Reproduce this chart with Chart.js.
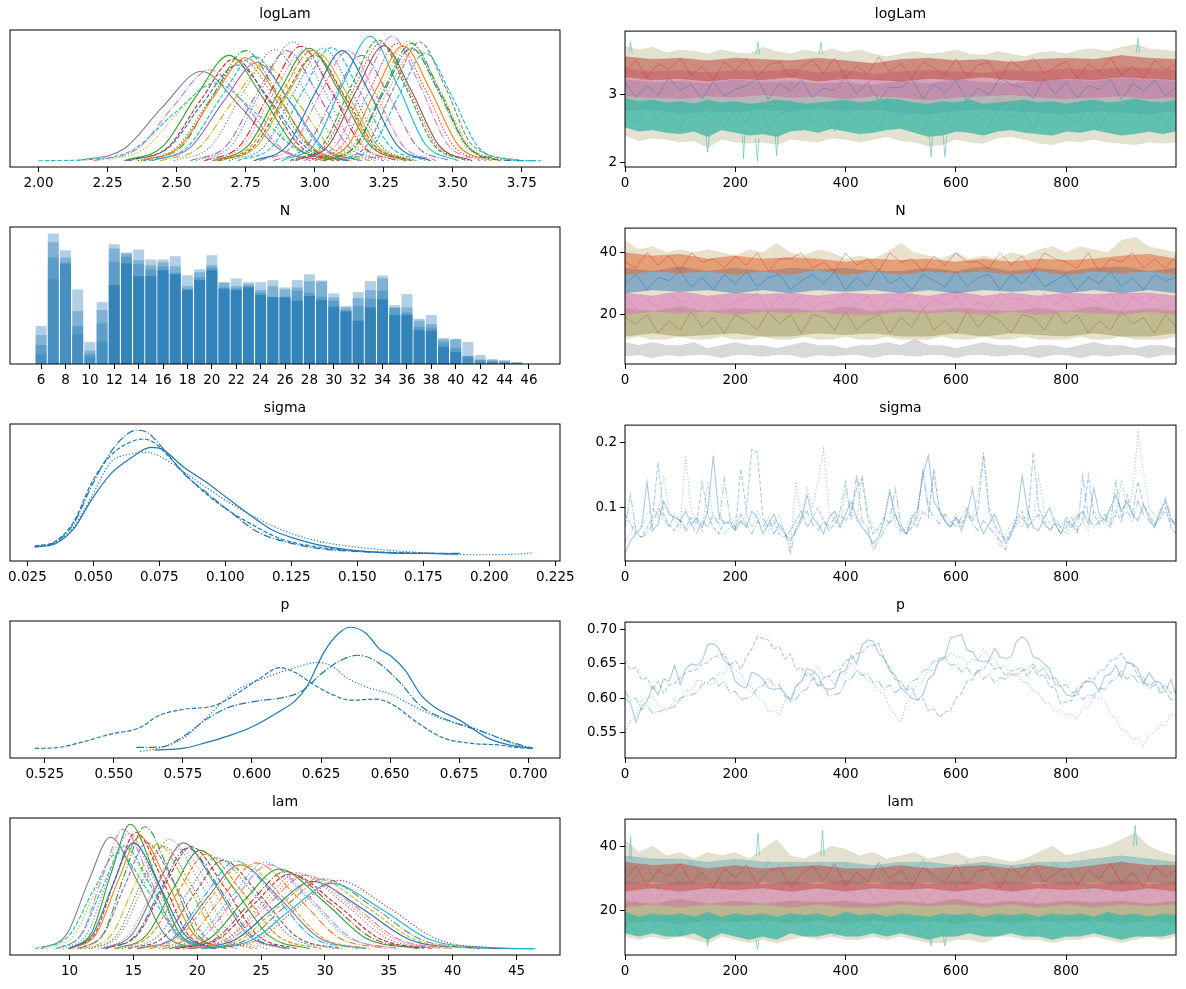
<!DOCTYPE html>
<html>
<head>
<meta charset="utf-8">
<script src="https://cdn.jsdelivr.net/npm/chart.js@4.4.1/dist/chart.umd.min.js"></script>
<style>
  body { margin: 0; background: #fff; width: 1186px; height: 989px; position: relative; overflow: hidden; font-family: "DejaVu Sans", sans-serif; }
  .panel { position: absolute; }
  .ttl { position: absolute; font-size: 14px; line-height: 18px; height: 18px; text-align: center; color: #000; }
</style>
</head>
<body>
<script>
// ---- tick labels ----
const logLamKdeTicks = ['2.00','2.25','2.50','2.75','3.00','3.25','3.50','3.75'];
const nHistTicks = ['6','8','10','12','14','16','18','20','22','24','26','28','30','32','34','36','38','40','42','44','46'];
const sigmaKdeTicks = ['0.025','0.050','0.075','0.100','0.125','0.150','0.175','0.200','0.225'];
const pKdeTicks = ['0.525','0.550','0.575','0.600','0.625','0.650','0.675','0.700'];
const lamKdeTicks = ['10','15','20','25','30','35','40','45'];
const drawTicks = ['0','200','400','600','800'];
const logLamTraceTicks = ['2','3'];
const nTraceTicks = ['20','40'];
const sigmaTraceTicks = ['0.1','0.2'];
const pTraceTicks = ['0.55','0.60','0.65','0.70'];
const lamTraceTicks = ['20','40'];

// ---- logLam: one KDE per site/chain, [x values, density values] ----
const logLamSite = [7,9,8,6,2,3,5,2,4,9,7,8,1,0,7,3,2,9,0,4,8,1,6,6,9,2,3,4,1,7,8,0,5,9,3,6,0,5,1,2];
const logLamKde = [
  [[2.14,2.31,2.45,2.59,2.73,2.87,3.04],[0,0.25,1.13,1.87,1.13,0.25,0]],
  [[2.00,2.19,2.34,2.49,2.64,2.79,2.94,3.12],[0,0.03,0.22,0.98,1.62,0.98,0.22,0]],
  [[2.21,2.38,2.52,2.66,2.80,2.94,3.11],[0,0.24,1.09,1.80,1.09,0.24,0]],
  [[2.20,2.36,2.49,2.62,2.75,2.88,3.04],[0,0.26,1.15,1.90,1.15,0.26,0]],
  [[2.31,2.45,2.57,2.69,2.81,2.93,3.07],[0,0.30,1.34,2.20,1.34,0.30,0]],
  [[2.33,2.47,2.59,2.71,2.83,2.95,3.09],[0,0.29,1.29,2.13,1.29,0.29,0]],
  [[2.36,2.50,2.62,2.74,2.86,2.98,3.12],[0,0.28,1.27,2.10,1.27,0.28,0]],
  [[2.38,2.52,2.635,2.75,2.865,2.98,3.12],[0,0.31,1.40,2.30,1.40,0.31,0]],
  [[2.41,2.55,2.67,2.79,2.91,3.03,3.17],[0,0.28,1.24,2.05,1.24,0.28,0]],
  [[2.40,2.54,2.66,2.78,2.90,3.02,3.16],[0,0.29,1.32,2.18,1.32,0.29,0]],
  [[2.49,2.625,2.74,2.855,2.97,3.085,3.22],[0,0.31,1.41,2.32,1.41,0.31,0]],
  [[2.44,2.58,2.70,2.82,2.94,3.06,3.20],[0,0.27,1.21,2.00,1.21,0.27,0]],
  [[2.37,2.51,2.63,2.75,2.87,2.99,3.13],[0,0.29,1.30,2.15,1.30,0.29,0]],
  [[2.32,2.47,2.595,2.72,2.845,2.97,3.12],[0,0.27,1.21,2.00,1.21,0.27,0]],
  [[2.57,2.70,2.81,2.92,3.03,3.14,3.27],[0,0.33,1.51,2.48,1.51,0.33,0]],
  [[2.60,2.73,2.84,2.95,3.06,3.17,3.30],[0,0.32,1.45,2.39,1.45,0.32,0]],
  [[2.63,2.76,2.87,2.98,3.09,3.20,3.33],[0,0.32,1.43,2.35,1.43,0.32,0]],
  [[2.72,2.85,2.955,3.06,3.165,3.27,3.40],[0,0.32,1.43,2.36,1.43,0.32,0]],
  [[2.69,2.82,2.925,3.03,3.135,3.24,3.37],[0,0.32,1.43,2.35,1.43,0.32,0]],
  [[2.55,2.68,2.79,2.90,3.01,3.12,3.25],[0,0.31,1.40,2.30,1.40,0.31,0]],
  [[2.66,2.79,2.90,3.01,3.12,3.23,3.36],[0,0.30,1.37,2.25,1.37,0.30,0]],
  [[2.64,2.77,2.88,2.99,3.10,3.21,3.34],[0,0.31,1.40,2.30,1.40,0.31,0]],
  [[2.61,2.74,2.85,2.96,3.07,3.18,3.31],[0,0.31,1.40,2.30,1.40,0.31,0]],
  [[2.96,3.08,3.18,3.28,3.38,3.48,3.60],[0,0.35,1.58,2.60,1.58,0.35,0]],
  [[2.88,3.00,3.10,3.20,3.30,3.40,3.52],[0,0.35,1.58,2.60,1.58,0.35,0]],
  [[2.91,3.03,3.13,3.23,3.33,3.43,3.55],[0,0.34,1.53,2.52,1.53,0.34,0]],
  [[2.92,3.04,3.14,3.24,3.34,3.44,3.56],[0,0.33,1.49,2.46,1.49,0.33,0]],
  [[2.85,2.97,3.07,3.17,3.27,3.37,3.49],[0,0.30,1.34,2.20,1.34,0.30,0]],
  [[3.00,3.12,3.22,3.32,3.42,3.52,3.64],[0,0.32,1.46,2.40,1.46,0.32,0]],
  [[3.08,3.19,3.285,3.38,3.475,3.57,3.75],[0,0.33,1.51,2.48,1.51,0.33,0]],
  [[3.02,3.14,3.24,3.34,3.44,3.54,3.66],[0,0.34,1.52,2.50,1.52,0.34,0]],
  [[3.03,3.15,3.25,3.35,3.45,3.55,3.67,3.80],[0,0.32,1.43,2.35,1.43,0.32,0.02,0]],
  [[2.93,3.05,3.15,3.25,3.35,3.45,3.57],[0,0.32,1.46,2.40,1.46,0.32,0]],
  [[3.10,3.21,3.305,3.40,3.495,3.59,3.70,3.82],[0,0.30,1.37,2.25,1.37,0.30,0.03,0]],
  [[2.98,3.10,3.20,3.30,3.40,3.50,3.62],[0,0.33,1.49,2.45,1.49,0.33,0]],
  [[2.80,2.92,3.02,3.12,3.22,3.32,3.44],[0,0.31,1.40,2.30,1.40,0.31,0]],
  [[2.78,2.90,3.00,3.10,3.20,3.30,3.42],[0,0.31,1.40,2.30,1.40,0.31,0]],
  [[2.65,2.78,2.89,3.00,3.11,3.22,3.35],[0,0.30,1.34,2.20,1.34,0.30,0]],
  [[3.04,3.16,3.26,3.36,3.46,3.56,3.68],[0,0.31,1.40,2.30,1.40,0.31,0]],
  [[3.03,3.15,3.25,3.35,3.45,3.55,3.67],[0,0.33,1.49,2.45,1.49,0.33,0]]
];

// ---- lam KDEs ----
const lamSite = [7,9,8,6,2,3,4,2,1,4,7,8,7,3,6,0,2,1,0,9,4,8,9,6,2,3,4,7,0,8,1,5,9,5,3,1,0,9,5,6];
const lamKde = [
  [[7.76,9.8,11.5,13.2,15.3,17.4,19.9],[0,.024,.109,.179,.109,.024,0]],
  [[7.3,9.95,11.85,13.75,16.15,18.55,21.4],[0,.021,.093,.154,.093,.021,0]],
  [[8.2,10.4,12.2,14.0,16.3,18.6,21.4],[0,.023,.102,.168,.102,.023,0]],
  [[9.1,11.0,12.6,14.2,16.2,18.2,20.6],[0,.026,.117,.192,.117,.026,0]],
  [[9.95,11.75,13.25,14.75,16.65,18.55,20.8],[0,.027,.121,.200,.121,.027,0]],
  [[10.1,12.0,13.6,15.2,17.2,19.2,21.6],[0,.025,.114,.187,.114,.025,0]],
  [[9.5,11.4,13.0,14.6,16.6,18.6,21.0],[0,.025,.112,.185,.112,.025,0]],
  [[10.8,12.7,14.3,15.9,17.9,19.9,22.3],[0,.026,.119,.196,.119,.026,0]],
  [[10.1,12.1,13.8,15.5,17.6,19.7,22.2],[0,.024,.109,.180,.109,.024,0]],
  [[10.6,12.65,14.35,16.05,18.25,20.45,23.1],[0,.023,.103,.170,.103,.023,0]],
  [[11.7,14.0,15.9,17.8,20.2,22.6,25.5],[0,.024,.107,.176,.107,.024,0]],
  [[11.1,13.3,15.1,16.9,19.2,21.5,24.3],[0,.023,.102,.168,.102,.023,0]],
  [[12.5,14.9,16.9,18.9,21.4,23.9,26.9],[0,.023,.103,.170,.103,.023,0]],
  [[12.8,15.3,17.4,19.5,22.1,24.7,27.8],[0,.022,.100,.164,.100,.022,0]],
  [[12.2,14.6,16.6,18.6,21.1,23.6,26.6],[0,.022,.097,.160,.097,.022,0]],
  [[12.8,15.2,17.2,19.2,21.7,24.2,27.2],[0,.022,.098,.162,.098,.022,0]],
  [[13.5,16.0,18.1,20.2,22.9,25.6,28.8],[0,.021,.096,.158,.096,.021,0]],
  [[13.7,16.3,18.5,20.7,23.5,26.3,29.7],[0,.021,.092,.152,.092,.021,0]],
  [[14.1,16.9,19.2,21.5,24.4,27.3,30.8],[0,.020,.089,.146,.089,.020,0]],
  [[15.3,18.2,20.6,23.0,26.0,29.0,32.6],[0,.019,.086,.141,.086,.019,0]],
  [[15.3,18.3,20.8,23.3,26.4,29.5,33.2],[0,.018,.082,.135,.082,.018,0]],
  [[15.6,18.6,21.1,23.6,26.7,29.8,33.5],[0,.018,.083,.136,.083,.018,0]],
  [[17.0,20.1,22.7,25.3,28.5,31.7,35.5],[0,.019,.084,.139,.084,.019,0]],
  [[17.3,20.4,23.0,25.6,28.8,32.0,35.8],[0,.018,.082,.135,.082,.018,0]],
  [[17.8,21.0,23.7,26.4,29.8,33.2,37.3],[0,.017,.078,.128,.078,.017,0]],
  [[18.3,21.7,24.5,27.3,30.8,34.3,38.5],[0,.016,.073,.120,.073,.016,0]],
  [[18.9,22.3,25.1,27.9,31.4,34.9,39.1],[0,.016,.074,.122,.074,.016,0]],
  [[20.3,23.9,26.9,29.9,33.7,37.5,42.1],[0,.015,.068,.112,.068,.015,0]],
  [[19.4,23.0,26.0,29.0,32.8,36.6,41.2,46.3],[0,.015,.066,.108,.066,.015,.002,0]],
  [[19.8,23.4,26.4,29.4,33.2,37.0,41.6],[0,.015,.068,.112,.068,.015,0]],
  [[18.9,22.4,25.3,28.2,31.8,35.4,39.7],[0,.016,.072,.118,.072,.016,0]],
  [[18.3,21.5,24.2,26.9,30.3,33.7,37.8],[0,.017,.075,.124,.075,.017,0]],
  [[20.6,24.3,27.4,30.5,34.4,38.3,43.0,46.5],[0,.014,.064,.105,.064,.014,.002,0]],
  [[14.6,17.4,19.7,22.0,24.9,27.8,31.3],[0,.019,.086,.142,.086,.019,0]],
  [[21.1,24.8,27.9,31.0,34.9,38.8,43.5],[0,.015,.067,.110,.067,.015,0]],
  [[16.3,19.4,22.0,24.6,27.8,31.0,34.8],[0,.019,.084,.138,.084,.019,0]],
  [[9.9,11.8,13.4,15.0,17.0,19.0,21.4],[0,.023,.103,.170,.103,.023,0]],
  [[8.9,10.9,12.6,14.3,16.4,18.5,21.0],[0,.022,.100,.165,.100,.022,0]],
  [[11.5,13.7,15.5,17.3,19.6,21.9,24.7],[0,.022,.100,.165,.100,.022,0]],
  [[19.2,22.7,25.6,28.5,32.1,35.7,40.0],[0,.016,.072,.118,.072,.016,0]]
];

// ---- sigma KDE, one per chain ----
const sigmaKde = [
  [[0.0278,0.0355,0.0425,0.0495,0.0565,0.0635,0.0719,0.0760,0.0844,0.0928,0.1012,0.1096,0.1180,0.1264,0.1348,0.1460,0.1614,0.1750,0.1880],
   [1.7,2.4,5.6,12.1,17.5,20.7,23.3,22.9,18.9,15.7,12.1,8.5,5.3,3.5,2.2,1.1,0.43,0.29,0.14]],
  [[0.0278,0.0355,0.0425,0.0495,0.0565,0.0635,0.0690,0.0730,0.0800,0.0886,0.0984,0.1096,0.1208,0.1348,0.1490,0.1690,0.1865],
   [1.9,2.9,7.1,15.8,21.5,24.3,25.1,24.3,20.4,15.3,10.7,6.7,3.5,1.7,0.86,0.43,0.22]],
  [[0.0278,0.0355,0.0425,0.0495,0.0565,0.0635,0.0705,0.0760,0.0844,0.0928,0.1012,0.1124,0.1236,0.1348,0.1490,0.1630,0.1823,0.1960,0.2103,0.2166],
   [1.7,2.4,6.0,12.8,20.0,21.8,22.2,21.1,17.9,14.6,11.4,7.8,4.9,3.0,1.7,0.94,0.22,0.0,0.14,0.43]],
  [[0.0278,0.0355,0.0425,0.0495,0.0565,0.0620,0.0663,0.0705,0.0760,0.0844,0.0928,0.1012,0.1124,0.1236,0.1348,0.1490,0.1630,0.1750,0.1890],
   [1.7,2.7,6.7,15.1,22.2,25.8,27.0,26.5,23.3,17.5,13.5,9.6,4.9,2.7,1.4,0.72,0.43,0.29,0.29]]
];

// ---- p KDE, one per chain ----
const pKde = [
  [[0.5648,0.5755,0.5835,0.5915,0.5995,0.6102,0.6156,0.6196,0.6263,0.6316,0.6356,0.6410,0.6463,0.6503,0.6556,0.6610,0.6663,0.6757,0.6850,0.6930,0.7017],
   [0.48,1.06,2.7,4.6,7.0,11.8,14.7,18.5,29.1,34.4,36.0,34.4,29.6,27.7,23.4,16.6,12.8,8.9,4.1,2.0,0.96]],
  [[0.5214,0.5300,0.5381,0.5488,0.5595,0.5661,0.5755,0.5862,0.5942,0.6022,0.6102,0.6156,0.6222,0.6289,0.6356,0.6449,0.6516,0.6597,0.6690,0.6797,0.6890,0.6957,0.7017],
   [0.96,1.25,2.7,5.1,7.0,10.4,12.3,13.3,16.6,20.9,24.3,22.9,19.5,16.6,14.9,15.2,13.3,8.5,4.1,2.4,2.0,1.25,0.96]],
  [[0.5595,0.5648,0.5755,0.5835,0.5942,0.6049,0.6156,0.6236,0.6289,0.6343,0.6423,0.6503,0.6583,0.6690,0.6797,0.6890,0.6957,0.7017],
   [0.1,0.77,4.1,9.9,17.6,21.4,24.3,25.8,24.8,21.4,18.5,16.6,13.3,9.4,7.0,4.1,2.0,0.96]],
  [[0.5581,0.5675,0.5755,0.5835,0.5915,0.6022,0.6115,0.6182,0.6249,0.6316,0.6383,0.6449,0.6530,0.6610,0.6717,0.6824,0.6930,0.7017],
   [1.25,1.44,4.6,9.4,12.8,14.7,15.7,17.6,22.4,26.2,27.9,26.2,20.5,13.3,8.9,6.1,3.0,0.96]]
];

// ---- N histogram: counts per value, per chain ----
const nBins = [6,7,8,9,10,11,12,13,14,15,16,17,18,19,20,21,22,23,24,25,26,27,28,29,30,31,32,33,34,35,36,37,38,39,40,41,42,43,44,45];
const nChain1 = [114,392,342,224,66,186,360,335,344,314,314,324,267,285,327,246,257,246,246,252,230,252,270,251,212,174,216,249,266,177,210,136,147,78,75,66,27,15,12,6];
const nChain2 = [87,366,320,159,40,162,347,332,312,297,306,294,234,276,297,244,234,240,222,234,224,230,249,248,200,170,198,222,258,170,170,130,120,74,74,24,14,12,8,4];
const nChain3 = [57,320,304,114,30,122,307,322,300,284,292,274,226,260,289,230,227,234,214,202,202,220,214,202,190,162,174,196,220,168,154,112,110,65,48,24,12,8,6,2];
const nChain4 = [30,255,300,90,22,67,237,302,264,264,282,270,222,252,282,226,222,230,207,200,200,190,204,192,172,158,130,170,194,147,147,102,100,52,36,20,8,6,4,2];
const nOverlap = [0,0,0,0,0,0,237,302,264,264,282,270,222,252,282,226,222,230,207,200,200,190,204,192,172,158,130,170,194,147,147,102,100,52,36,0,0,0,0,0];

// ---- trace draws ----
const draws41 = [0,25,50,75,100,125,150,175,200,225,250,275,300,325,350,375,400,425,450,475,500,525,550,575,600,625,650,675,700,725,750,775,800,825,850,875,900,925,950,975,999];
const draws21 = [0,50,100,150,200,250,300,350,400,450,500,550,600,650,700,750,800,850,900,950,999];
const draws51 = [0,20,40,60,80,100,120,140,160,180,200,220,240,260,280,300,320,340,360,380,400,420,440,460,480,500,520,540,560,580,600,620,640,660,680,700,720,740,760,780,800,820,840,860,880,900,920,940,960,980,999];
const draws101 = [0,10,20,30,40,50,60,70,80,90,100,110,120,130,140,150,160,170,180,190,200,210,220,230,240,250,260,270,280,290,300,310,320,330,340,350,360,370,380,390,400,410,420,430,440,450,460,470,480,490,500,510,520,530,540,550,560,570,580,590,600,610,620,630,640,650,660,670,680,690,700,710,720,730,740,750,760,770,780,790,800,810,820,830,840,850,860,870,880,890,900,910,920,930,940,950,960,970,980,990,999];

// logLam trace: envelopes of the overlapping site traces
const llOuterHi = [3.72,3.66,3.70,3.62,3.66,3.64,3.60,3.66,3.62,3.60,3.70,3.64,3.60,3.66,3.62,3.68,3.62,3.66,3.60,3.56,3.60,3.64,3.60,3.62,3.66,3.60,3.58,3.64,3.60,3.56,3.62,3.64,3.60,3.66,3.68,3.64,3.70,3.74,3.68,3.66,3.64];
const llOuterLo = [2.40,2.32,2.36,2.34,2.30,2.32,2.22,2.34,2.30,2.28,2.30,2.26,2.34,2.32,2.30,2.36,2.34,2.30,2.34,2.38,2.32,2.30,2.24,2.26,2.34,2.30,2.28,2.36,2.38,2.34,2.28,2.26,2.32,2.30,2.34,2.30,2.28,2.26,2.30,2.28,2.30];
const llMixHi = [3.22,3.18,3.20,3.16,3.22,3.18,3.20,3.16,3.18,3.14,3.20,3.16,3.22,3.18,3.16,3.20,3.22,3.20,3.24,3.22,3.20];
const llMixLo = [2.76,2.78,2.72,2.76,2.74,2.78,2.76,2.80,2.76,2.78,2.74,2.72,2.76,2.78,2.76,2.74,2.72,2.76,2.74,2.72,2.76];
const llPinkHi = [3.38,3.34,3.36,3.32,3.36,3.34,3.38,3.32,3.36,3.30,3.34,3.36,3.34,3.32,3.36,3.34,3.38,3.36,3.40,3.38,3.36];
const llPinkLo = [2.98,2.96,2.94,2.98,2.96,3.00,2.96,2.98,2.94,2.98,2.96,2.92,2.96,2.98,3.00,2.96,2.94,2.96,2.98,2.94,2.96];
const llRedHi = [3.56,3.52,3.54,3.50,3.54,3.52,3.50,3.54,3.50,3.46,3.52,3.54,3.50,3.52,3.48,3.52,3.54,3.52,3.58,3.54,3.52];
const llRedLo = [3.26,3.22,3.24,3.20,3.24,3.22,3.26,3.20,3.24,3.22,3.20,3.24,3.22,3.26,3.22,3.20,3.24,3.22,3.26,3.24,3.22];
const llTealHi = [2.94,2.90,2.92,2.88,2.90,2.86,2.92,2.88,2.90,2.86,2.88,2.92,2.90,2.86,2.88,2.90,2.92,2.88,2.90,2.94,2.92,2.88,2.86,2.90,2.88,2.92,2.86,2.88,2.90,2.92,2.88,2.90,2.86,2.90,2.92,2.88,2.90,2.94,2.90,2.88,2.92];
const llTealLo = [2.52,2.46,2.48,2.44,2.42,2.46,2.38,2.48,2.44,2.40,2.42,2.38,2.46,2.48,2.44,2.50,2.46,2.42,2.44,2.48,2.50,2.44,2.38,2.40,2.46,2.44,2.40,2.46,2.48,2.44,2.42,2.40,2.46,2.44,2.48,2.44,2.40,2.42,2.46,2.42,2.46];
const llSpikeDraw = [147,150,153, 213,215,217, 237,240,243, 272,275,278, 552,555,558, 577,580,583, 7,10,13, 238,241,244, 352,355,358, 927,930,933];
const llSpikeVal = [2.40,2.15,2.40, 2.40,2.05,2.40, 2.35,2.02,2.35, 2.40,2.10,2.40, 2.38,2.08,2.40, 2.40,2.08,2.38, 3.60,3.78,3.60, 3.60,3.78,3.60, 3.60,3.78,3.60, 3.62,3.84,3.62];
// single site traces (every 20th draw) laid over the envelopes
const llTealSite = [2.70,2.55,2.86,2.64,2.79,2.48,2.88,2.68,2.75,2.53,2.81,2.59,2.88,2.50,2.72,2.77,2.90,2.57,2.70,2.46,2.83,2.61,2.77,2.50,2.88,2.70,2.72,2.46,2.81,2.59,2.90,2.66,2.70,2.53,2.86,2.64,2.79,2.48,2.88,2.75,2.68,2.55,2.83,2.50,2.77,2.66,2.90,2.57,2.75,2.53,2.81];
const llRedSite = [3.34,3.51,3.25,3.46,3.37,3.54,3.29,3.42,3.22,3.48,3.36,3.53,3.27,3.44,3.49,3.24,3.41,3.51,3.32,3.54,3.25,3.42,3.31,3.56,3.34,3.46,3.24,3.49,3.39,3.29,3.53,3.27,3.44,3.48,3.22,3.51,3.36,3.54,3.31,3.41,3.49,3.25,3.46,3.34,3.54,3.29,3.42,3.24,3.51,3.37,3.46];
const llBlueSite = [3.18,2.96,3.13,3.00,3.25,3.06,3.15,2.94,3.20,2.98,3.08,3.13,3.23,2.93,3.17,3.05,3.22,2.96,3.10,3.06,3.25,3.01,3.18,2.91,3.11,3.10,3.23,2.94,3.15,3.03,3.20,2.91,3.10,3.00,3.25,3.15,3.11,2.94,3.23,3.01,3.18,2.96,3.13,3.08,3.23,2.93,3.17,3.05,3.22,2.98,3.10];
const llPinkSite = [3.24,3.17,3.29,3.05,3.21,3.09,3.32,3.14,3.24,3.06,3.27,3.20,3.11,3.32,3.15,3.29,3.03,3.26,3.23,3.08,3.30,3.09,3.18,3.27,3.05,3.24,3.14,3.33,3.11,3.21,3.06,3.32,3.12,3.29,3.20,3.05,3.27,3.23,3.08,3.30,3.15,3.26,3.03,3.21,3.09,3.32,3.17,3.24,3.06,3.29,3.14];

// N trace
const nGrayHi = [11,10,11,10,10,11,9,10,11,10,10,9,10,11,10,10,9,10,10,11,10,12,10,10,9,10,11,10,10,9,10,10,9,10,11,10,10,9,10,10,9];
const nGrayLo = [6.5,7,6,7,6.5,7,7,6,7,7,6.5,7,7,6,7,6.5,7,7,6,7,7,6.5,7,7,6,7,7,6.5,7,7,6,7,7,6,7,6.5,7,7,6,7,7];
const nOuterHi = [44,41,42,40,41,40,41,40,39,41,40,43,40,39,41,40,38,39,38,40,43,40,39,38,40,38,39,38,40,39,41,42,40,42,41,40,44,45,42,41,40];
const nOuterLo = [12,13,12,12,13,12,12,13,12,12,13,12,12,13,12,12,13,12,12,13,12,12,12,13,12,12,13,12,12,13,12,12,12,13,12,12,13,12,12,12,13];
const nGreenHi = [22,21,22.5,21,22,21.5,22,21,22.5,21,22,21,22,21.5,21,22,21,22.5,21,22,21];
const nGreenLo = [13,14,13,13.5,14,13,13,14,13.5,14,13,13,14,13,14,13.5,13,14,13,13,14];
const nPinkHi = [27,26,27.5,26,27,26.5,27,26,27,26.5,27,26,27.5,26,27,26,27,26.5,27,27,26];
const nPinkLo = [20,21,20.5,21,20,21,20.5,21,20,20,21,20.5,21,20,21,20,21,20.5,20,21,20];
const nBlueHi = [35,34,35.5,34,35,34,35,34.5,35,34,34,35,34,35.5,34,35,34,35,35.5,34,35];
const nBlueLo = [27,28,27.5,28,27,28,27,28,27.5,28,27,28,27,28,27.5,28,27,28,27,28,27];
const nOrangeHi = [40,39,39.5,38,39,38,38.5,38,37,38,37.5,38,37,38,37,38,37.5,38,39,39.5,38];
const nOrangeLo = [33,34,33.5,34,33,34,33,34.5,33,34,33,34,33.5,34,33,34,33,34,33.5,34,33];
const nOrangeSite = [37,35,40,36,39,34,40,37,38,35,39,36,40,34,38,38,40,35,37,34,40,36,38,34,40,37,38,34,39,36,40,37,37,35,40,36,39,34,40,38,37,35,40,34,38,37,40,35,38,35,39];
const nBlueSite = [30,33,28,32,31,34,29,32,28,33,30,34,29,32,33,28,31,33,30,34,28,32,29,35,30,32,28,33,31,29,34,29,32,33,28,33,30,34,29,31,33,28,32,30,34,29,32,28,33,31,32];
const nPinkSite = [26,22,25,22,27,24,25,22,26,22,24,25,27,21,26,23,26,22,24,24,27,23,26,21,25,24,27,22,25,23,26,21,24,22,27,25,25,22,27,23,26,22,25,24,27,21,26,23,26,22,24];
const nOliveSite = [19,17,20,14,18,15,21,16,19,14,20,18,15,21,17,20,14,20,19,15,21,15,18,20,14,19,16,22,15,18,14,21,16,20,18,14,20,19,15,21,17,20,14,18,15,21,17,19,14,20,16];

// lam trace
const lamOuterHi = [42,38,40,37,38,36,38,37,38,36,39,42,37,36,38,40,39,37,38,36,37,38,36,37,38,36,37,36,35,36,38,40,37,38,39,40,42,44,40,38,37];
const lamOuterLo = [12,11,12,11,12,11,10,12,11,10,11,10,11,12,11,12,11,11,12,11,12,11,10,10,11,11,10,12,12,11,11,10,11,11,12,11,10,11,12,11,12];
const lamBlueHi = [37,36,36,35,36,35,35,35,35,34,35,35,34,35,34,35,35,36,37,36,35];
const lamBlueLo = [28,29,28,29,28,29,28,29,28,29,28,29,28,29,28,29,28,29,28,29,28];
const lamRedHi = [35,34,34.5,33,34,33,33.5,34,33,33,34,33,33.5,34,33,34,33,34,35,34,34];
const lamRedLo = [26,27,26,27,26.5,27,26,27,26,27,26.5,27,26,27,26,27,26.5,27,26,27,26];
const lamPinkHi = [29,28,29,28.5,29,28,29,28,29.5,28,29,28,29,28.5,29,28,29,28,29.5,28,29];
const lamPinkLo = [21,22,21,22,21.5,22,21,22,21,21,22,21.5,22,21,22,21,22,21,22,21.5,22];
const lamMixHi = [23,22,23.5,22,23,22,23,22.5,23,22,23,22,23.5,22,23,22,23,22.5,23,22,23];
const lamMixLo = [16,17,16,17,16.5,17,16,17,16,17,16.5,17,16,17,16,17,16.5,17,16,17,16];
const lamTealHi = [19.5,18,19,18.5,19,18,19.5,18,19,18.5,19,18,19,18.5,19,18,19.5,18.5,19,18,19,18.5,18,19,18.5,19,18,19,18.5,19,18,19,18.5,19,18,19.5,18.5,19,18,19,18.5];
const lamTealLo = [13,12,13,12,12,13,11,13,12,11,12,11,13,12,12,13,12,12,13,12,13,12,11,12,12,13,12,12,13,12,12,11,12,12,13,12,11,12,12,12,13];
const lamSpikeDraw = [147,150,153, 237,240,243, 552,555,558, 577,580,583, 238,241,244, 355,358,361, 922,925,928, 8,10,12];
const lamSpikeVal = [12,9,12, 11,8,11, 12,9,12, 12,9,12, 37,44,37, 37,45,37, 40,46.5,40, 36,43,36];
const lamTealSite = [15.9,13.4,18.3,14.8,17.3,12.4,18.7,15.5,16.6,13.1,17.6,14.1,18.7,12.7,16.2,16.9,19.0,13.8,15.9,12.0,18.0,14.5,16.9,12.7,18.7,15.9,16.2,12.0,17.6,14.1,19.0,15.2,15.9,13.1,18.3,14.8,17.3,12.4,18.7,16.6,15.5,13.4,18.0,12.7,16.9,15.2,19.0,13.8,16.6,13.1,17.6];
const lamRedSite = [29.8,33.8,27.8,32.6,30.6,34.6,28.6,31.8,27.0,33.0,30.2,34.2,28.2,32.2,33.4,27.4,31.4,33.8,29.4,34.6,27.8,31.8,29.0,35.0,29.8,32.6,27.4,33.4,31.0,28.6,34.2,28.2,32.2,33.0,27.0,33.8,30.2,34.6,29.0,31.4,33.4,27.8,32.6,29.8,34.6,28.6,31.8,27.4,33.8,30.6,32.6];
const lamPinkSite = [27.1,22.6,26.1,23.3,28.5,24.7,26.4,22.2,27.5,22.9,25.0,26.1,28.2,21.9,26.8,24.3,27.8,22.6,25.4,24.7,28.5,23.6,27.1,21.5,25.7,25.4,28.2,22.2,26.4,24.0,27.5,21.5,25.4,23.3,28.5,26.4,25.7,22.2,28.2,23.6,27.1,22.6,26.1,25.0,28.2,21.9,26.8,24.3,27.8,22.9,25.4];
const lamBlueSite = [33,30.5,34.5,26.5,32,28,35.5,29.5,33,27,34,31.5,28.5,35.5,30,34.5,26,33.5,32.5,27.5,35,28,31,34,26.5,33,29.5,36,28.5,32,27,35.5,29,34.5,31.5,26.5,34,32.5,27.5,35,30,33.5,26,32,28,35.5,30.5,33,27,34.5,29.5];

// sigma trace, per chain (every 10th draw)
const sigmaChain1 = [0.030,0.050,0.060,0.070,0.140,0.065,0.075,0.110,0.090,0.085,0.080,0.095,0.075,0.085,0.070,0.095,0.180,0.090,0.075,0.080,0.065,0.080,0.070,0.095,0.085,0.060,0.075,0.090,0.070,0.060,0.050,0.065,0.080,0.120,0.085,0.075,0.060,0.085,0.095,0.070,0.090,0.110,0.085,0.070,0.060,0.045,0.055,0.080,0.125,0.090,0.070,0.060,0.085,0.095,0.150,0.180,0.110,0.095,0.080,0.070,0.085,0.065,0.090,0.130,0.080,0.060,0.075,0.090,0.070,0.045,0.060,0.085,0.150,0.095,0.070,0.065,0.085,0.100,0.075,0.060,0.080,0.070,0.085,0.095,0.075,0.130,0.090,0.080,0.100,0.120,0.095,0.110,0.090,0.080,0.105,0.085,0.070,0.095,0.110,0.080,0.075];
const sigmaChain2 = [0.090,0.075,0.060,0.055,0.070,0.085,0.170,0.090,0.075,0.065,0.080,0.070,0.085,0.075,0.140,0.090,0.070,0.060,0.080,0.075,0.065,0.160,0.095,0.190,0.185,0.085,0.070,0.080,0.060,0.055,0.065,0.080,0.095,0.070,0.085,0.100,0.080,0.065,0.075,0.090,0.080,0.095,0.130,0.145,0.085,0.060,0.070,0.085,0.075,0.090,0.065,0.060,0.080,0.070,0.095,0.085,0.160,0.095,0.080,0.070,0.085,0.075,0.090,0.080,0.095,0.185,0.100,0.075,0.060,0.050,0.065,0.080,0.095,0.070,0.185,0.100,0.080,0.065,0.075,0.060,0.070,0.085,0.065,0.080,0.150,0.090,0.075,0.085,0.070,0.095,0.080,0.120,0.090,0.140,0.105,0.090,0.075,0.085,0.100,0.070,0.060];
const sigmaChain3 = [0.050,0.060,0.080,0.070,0.090,0.100,0.085,0.150,0.095,0.080,0.070,0.180,0.095,0.080,0.065,0.140,0.085,0.075,0.060,0.070,0.085,0.075,0.090,0.070,0.095,0.080,0.065,0.075,0.090,0.060,0.040,0.140,0.085,0.130,0.100,0.140,0.190,0.095,0.080,0.070,0.125,0.095,0.080,0.150,0.090,0.070,0.060,0.085,0.130,0.075,0.060,0.070,0.090,0.080,0.160,0.095,0.150,0.100,0.085,0.075,0.090,0.070,0.095,0.085,0.120,0.180,0.090,0.070,0.040,0.060,0.075,0.085,0.070,0.090,0.080,0.150,0.095,0.075,0.085,0.070,0.060,0.075,0.090,0.080,0.065,0.095,0.085,0.075,0.100,0.085,0.140,0.100,0.120,0.215,0.155,0.100,0.090,0.080,0.095,0.075,0.085];
const sigmaChain4 = [0.070,0.120,0.065,0.055,0.060,0.075,0.100,0.085,0.070,0.090,0.080,0.065,0.075,0.060,0.080,0.070,0.090,0.075,0.145,0.085,0.070,0.090,0.075,0.060,0.080,0.070,0.085,0.060,0.075,0.065,0.030,0.070,0.085,0.095,0.075,0.065,0.080,0.070,0.085,0.095,0.140,0.085,0.150,0.080,0.070,0.035,0.050,0.065,0.080,0.130,0.075,0.060,0.070,0.090,0.155,0.100,0.085,0.075,0.090,0.080,0.070,0.085,0.100,0.075,0.065,0.080,0.070,0.060,0.050,0.035,0.060,0.075,0.085,0.070,0.080,0.090,0.075,0.065,0.080,0.070,0.085,0.075,0.060,0.150,0.085,0.070,0.080,0.090,0.075,0.140,0.085,0.095,0.080,0.110,0.090,0.080,0.070,0.090,0.115,0.085,0.070];

// p trace, per chain (every 10th draw)
const pChain1 = [0.600,0.593,0.565,0.588,0.595,0.618,0.605,0.628,0.625,0.648,0.620,0.643,0.650,0.648,0.655,0.678,0.680,0.673,0.655,0.648,0.625,0.618,0.615,0.638,0.635,0.628,0.615,0.613,0.615,0.608,0.595,0.618,0.625,0.643,0.640,0.633,0.615,0.613,0.615,0.638,0.640,0.663,0.650,0.678,0.685,0.683,0.665,0.658,0.640,0.633,0.615,0.608,0.600,0.598,0.605,0.628,0.635,0.658,0.660,0.688,0.690,0.693,0.670,0.668,0.655,0.653,0.655,0.673,0.660,0.658,0.660,0.683,0.690,0.683,0.660,0.658,0.650,0.643,0.620,0.618,0.605,0.603,0.605,0.623,0.625,0.623,0.610,0.633,0.635,0.648,0.630,0.653,0.650,0.643,0.620,0.638,0.625,0.623,0.610,0.628,0.605];
const pChain2 = [0.655,0.642,0.645,0.627,0.630,0.612,0.625,0.607,0.620,0.622,0.630,0.637,0.640,0.642,0.650,0.652,0.660,0.662,0.665,0.647,0.655,0.642,0.660,0.672,0.690,0.687,0.685,0.672,0.675,0.657,0.665,0.642,0.645,0.632,0.635,0.617,0.630,0.632,0.640,0.642,0.655,0.657,0.665,0.667,0.675,0.677,0.680,0.657,0.645,0.627,0.625,0.612,0.615,0.597,0.600,0.582,0.585,0.572,0.580,0.582,0.600,0.607,0.625,0.627,0.640,0.642,0.655,0.642,0.645,0.632,0.640,0.642,0.645,0.632,0.645,0.632,0.635,0.617,0.615,0.592,0.595,0.597,0.615,0.617,0.630,0.627,0.640,0.642,0.655,0.657,0.665,0.652,0.650,0.632,0.630,0.617,0.625,0.612,0.620,0.607,0.610];
const pChain3 = [0.550,0.567,0.575,0.597,0.600,0.602,0.590,0.587,0.585,0.597,0.595,0.612,0.610,0.627,0.625,0.622,0.620,0.637,0.635,0.652,0.640,0.637,0.620,0.617,0.600,0.597,0.580,0.582,0.575,0.597,0.600,0.617,0.625,0.637,0.635,0.647,0.630,0.632,0.620,0.637,0.635,0.652,0.640,0.637,0.625,0.622,0.610,0.607,0.585,0.577,0.565,0.592,0.605,0.622,0.625,0.642,0.640,0.657,0.655,0.667,0.660,0.662,0.650,0.657,0.655,0.672,0.660,0.657,0.645,0.647,0.635,0.637,0.625,0.622,0.610,0.607,0.595,0.592,0.580,0.582,0.575,0.577,0.570,0.587,0.585,0.602,0.600,0.597,0.575,0.572,0.555,0.552,0.540,0.542,0.530,0.547,0.550,0.562,0.560,0.577,0.575];
const pChain4 = [0.610,0.598,0.600,0.583,0.590,0.578,0.580,0.583,0.585,0.588,0.600,0.603,0.605,0.608,0.620,0.623,0.630,0.618,0.625,0.608,0.610,0.598,0.600,0.603,0.615,0.618,0.630,0.618,0.620,0.603,0.600,0.598,0.610,0.613,0.630,0.618,0.620,0.603,0.605,0.608,0.625,0.628,0.640,0.633,0.635,0.623,0.625,0.613,0.620,0.608,0.615,0.613,0.625,0.628,0.640,0.643,0.655,0.653,0.660,0.648,0.650,0.638,0.645,0.633,0.640,0.628,0.635,0.623,0.630,0.628,0.635,0.633,0.640,0.643,0.650,0.638,0.645,0.628,0.630,0.618,0.620,0.608,0.610,0.598,0.605,0.603,0.615,0.613,0.625,0.628,0.640,0.628,0.635,0.623,0.625,0.613,0.620,0.608,0.610,0.598,0.600];

// ---- styling ----
const TAB10 = ['#1f77b4','#ff7f0e','#2ca02c','#d62728','#9467bd','#8c564b','#e377c2','#7f7f7f','#bcbd22','#17becf'];
const DASH = [[], [4.4,1.9], [1.2,2], [7.7,1.9,1.2,1.9]];
const BLUE = '#1f77b4';
const TRACE_BLUE = 'rgba(31,119,180,0.38)';

Chart.defaults.font.family = '"DejaVu Sans", sans-serif';
Chart.defaults.font.size = 13.5;
Chart.defaults.color = '#000';

const frame = {
  id: 'frame',
  afterDraw(chart) {
    const a = chart.chartArea, ctx = chart.ctx;
    ctx.save();
    ctx.strokeStyle = '#000';
    ctx.lineWidth = 1;
    ctx.strokeRect(a.left, a.top, a.right - a.left, a.bottom - a.top);
    ctx.restore();
  }
};

function axis(lo, hi, labels, size, horizontal) {
  if (!labels) return { type: 'linear', min: lo, max: hi, display: false };
  return {
    type: 'linear', min: lo, max: hi, offset: false,
    afterBuildTicks: s => { s.ticks = labels.map(t => ({ value: parseFloat(t) })); },
    afterFit: s => { if (horizontal) s.height = size; else s.width = size; },
    ticks: { callback: (v, i) => labels[i], autoSkip: false, maxRotation: 0, padding: 3, color: '#000' },
    grid: { drawOnChartArea: false, drawTicks: true, tickLength: 5, color: '#000', offset: false },
    border: { display: false }
  };
}

function pts(xs, ys) {
  return ys.map((y, i) => ({ x: xs[i], y }));
}

function kdeSets(curves, sites, lw) {
  return curves.map((c, i) => ({
    data: pts(c[0], c[1]),
    borderColor: sites ? TAB10[sites[i]] : BLUE,
    borderWidth: lw,
    borderDash: DASH[i % 4],
    cubicInterpolationMode: 'monotone',
    fill: false
  }));
}

function band(xs, lo, hi, color) {
  return [
    { data: pts(xs, lo), borderColor: color, borderWidth: 0.5, fill: false },
    { data: pts(xs, hi), borderColor: color, borderWidth: 0.5, fill: '-1', backgroundColor: color }
  ];
}

function site(xs, ys, color) {
  return { data: pts(xs, ys), borderColor: color, borderWidth: 0.9, fill: false };
}

function spikes(xs, ys, color) {
  const data = [];
  xs.forEach((x, i) => {
    data.push({ x, y: ys[i] });
    if (i % 3 === 2) data.push({ x, y: null });
  });
  return { data, borderColor: color, borderWidth: 1, fill: false };
}

function chainSets(xs, chains) {
  return chains.map((c, i) => ({
    data: pts(xs, c), borderColor: TRACE_BLUE, borderWidth: 1.1, borderDash: DASH[i], fill: false
  }));
}

function panel(row, col, title, type, datasets, xr, xl, yr, yl) {
  const bx = col ? 625 : 10, bw = col ? 551 : 550, bh = 137, top = 30 + 197 * row;
  const yW = yl ? 48 : 0, padL = col ? 0 : 10, padT = 10, padR = col ? 10 : 22, xH = 30;
  const W = bw + yW + padL + padR, H = bh + padT + xH;
  const div = document.createElement('div');
  div.className = 'panel';
  div.style.left = (bx - yW - padL) + 'px';
  div.style.top = (top - padT) + 'px';
  div.style.width = W + 'px';
  div.style.height = H + 'px';
  const cv = document.createElement('canvas');
  cv.width = W; cv.height = H;
  div.appendChild(cv);
  document.body.appendChild(div);

  const t = document.createElement('div');
  t.className = 'ttl';
  t.textContent = title;
  t.style.left = bx + 'px';
  t.style.width = bw + 'px';
  t.style.top = (top - 26) + 'px';
  document.body.appendChild(t);

  // later datasets are painted on top
  datasets.forEach((d, i) => { d.order = -i; d.pointRadius = 0; });

  new Chart(cv, {
    type,
    data: { datasets },
    plugins: [frame],
    options: {
      responsive: false, animation: false, events: [],
      layout: { padding: { left: padL, top: padT, right: padR, bottom: 0 } },
      plugins: { legend: { display: false }, tooltip: { enabled: false } },
      elements: { point: { radius: 0 }, line: { borderWidth: 1 } },
      scales: {
        x: axis(xr[0], xr[1], xl, xH, true),
        y: axis(yr[0], yr[1], yl, yW, false)
      }
    }
  });
}

// ---- row 0: logLam ----
panel(0, 0, 'logLam', 'line', kdeSets(logLamKde, logLamSite, 1.1), [1.897, 3.888], logLamKdeTicks, [-0.13, 2.73], null);
panel(0, 1, 'logLam', 'line', [
  ...band(draws41, llOuterLo, llOuterHi, 'rgba(175,170,120,0.35)'),
  ...band(draws21, llMixLo, llMixHi, 'rgba(130,130,150,0.45)'),
  ...band(draws21, llPinkLo, llPinkHi, 'rgba(205,105,160,0.5)'),
  site(draws51, llBlueSite, 'rgba(31,119,180,0.5)'),
  site(draws51, llPinkSite, 'rgba(227,119,194,0.55)'),
  ...band(draws21, llRedLo, llRedHi, 'rgba(190,80,65,0.58)'),
  site(draws51, llRedSite, 'rgba(214,39,40,0.45)'),
  spikes(llSpikeDraw, llSpikeVal, 'rgba(60,180,190,0.55)'),
  ...band(draws41, llTealLo, llTealHi, 'rgba(62,182,165,0.78)'),
  site(draws51, llTealSite, 'rgba(23,190,207,0.55)')
], [0, 999], drawTicks, [1.93, 3.94], logLamTraceTicks);

// ---- row 1: N ----
const nSets = [nChain1, nChain2, nChain3, nChain4].map(c => ({
  data: pts(nBins, c), backgroundColor: 'rgba(31,119,180,0.35)', borderWidth: 0,
  barPercentage: 0.9, categoryPercentage: 1, grouped: false
}));
nSets.push({
  data: pts(nBins, nOverlap), backgroundColor: 'rgba(31,119,180,0.5)', borderWidth: 0,
  barPercentage: 0.9, categoryPercentage: 1, grouped: false
});
panel(1, 0, 'N', 'bar', nSets, [3.45, 48.55], nHistTicks, [0, 411.6], null);
panel(1, 1, 'N', 'line', [
  ...band(draws41, nGrayLo, nGrayHi, 'rgba(160,160,160,0.4)'),
  ...band(draws41, nOuterLo, nOuterHi, 'rgba(190,170,110,0.35)'),
  ...band(draws21, nGreenLo, nGreenHi, 'rgba(150,150,80,0.5)'),
  site(draws51, nOliveSite, 'rgba(140,86,75,0.45)'),
  ...band(draws21, nPinkLo, nPinkHi, 'rgba(215,115,185,0.55)'),
  site(draws51, nPinkSite, 'rgba(227,119,194,0.6)'),
  ...band(draws21, nBlueLo, nBlueHi, 'rgba(60,130,190,0.55)'),
  site(draws51, nBlueSite, 'rgba(31,119,180,0.55)'),
  ...band(draws21, nOrangeLo, nOrangeHi, 'rgba(225,105,50,0.55)'),
  site(draws51, nOrangeSite, 'rgba(214,39,40,0.45)')
], [0, 999], drawTicks, [4, 48], nTraceTicks);

// ---- row 2: sigma ----
panel(2, 0, 'sigma', 'line', kdeSets(sigmaKde, null, 1.2), [0.0184, 0.2268], sigmaKdeTicks, [-1.35, 28.35], null);
panel(2, 1, 'sigma', 'line', chainSets(draws101, [sigmaChain1, sigmaChain2, sigmaChain3, sigmaChain4]),
  [0, 999], drawTicks, [0.0184, 0.2268], sigmaTraceTicks);

// ---- row 3: p ----
panel(3, 0, 'p', 'line', kdeSets(pKde, null, 1.2), [0.5124, 0.7115], pKdeTicks, [-1.8, 37.8], null);
panel(3, 1, 'p', 'line', chainSets(draws101, [pChain1, pChain2, pChain3, pChain4]),
  [0, 999], drawTicks, [0.513, 0.711], pTraceTicks);

// ---- row 4: lam ----
panel(4, 0, 'lam', 'line', kdeSets(lamKde, lamSite, 1.1), [5.34, 48.4], lamKdeTicks, [-0.01, 0.21], null);
panel(4, 1, 'lam', 'line', [
  ...band(draws41, lamOuterLo, lamOuterHi, 'rgba(175,170,120,0.35)'),
  ...band(draws21, lamMixLo, lamMixHi, 'rgba(150,140,80,0.5)'),
  ...band(draws21, lamPinkLo, lamPinkHi, 'rgba(205,105,160,0.5)'),
  site(draws51, lamPinkSite, 'rgba(227,119,194,0.55)'),
  ...band(draws21, lamBlueLo, lamBlueHi, 'rgba(60,150,170,0.35)'),
  site(draws51, lamBlueSite, 'rgba(23,190,207,0.4)'),
  ...band(draws21, lamRedLo, lamRedHi, 'rgba(190,80,65,0.55)'),
  site(draws51, lamRedSite, 'rgba(214,39,40,0.45)'),
  spikes(lamSpikeDraw, lamSpikeVal, 'rgba(60,180,190,0.55)'),
  ...band(draws41, lamTealLo, lamTealHi, 'rgba(62,182,165,0.78)'),
  site(draws51, lamTealSite, 'rgba(23,190,207,0.55)')
], [0, 999], drawTicks, [6.2, 48.4], lamTraceTicks);
</script>
</body>
</html>
